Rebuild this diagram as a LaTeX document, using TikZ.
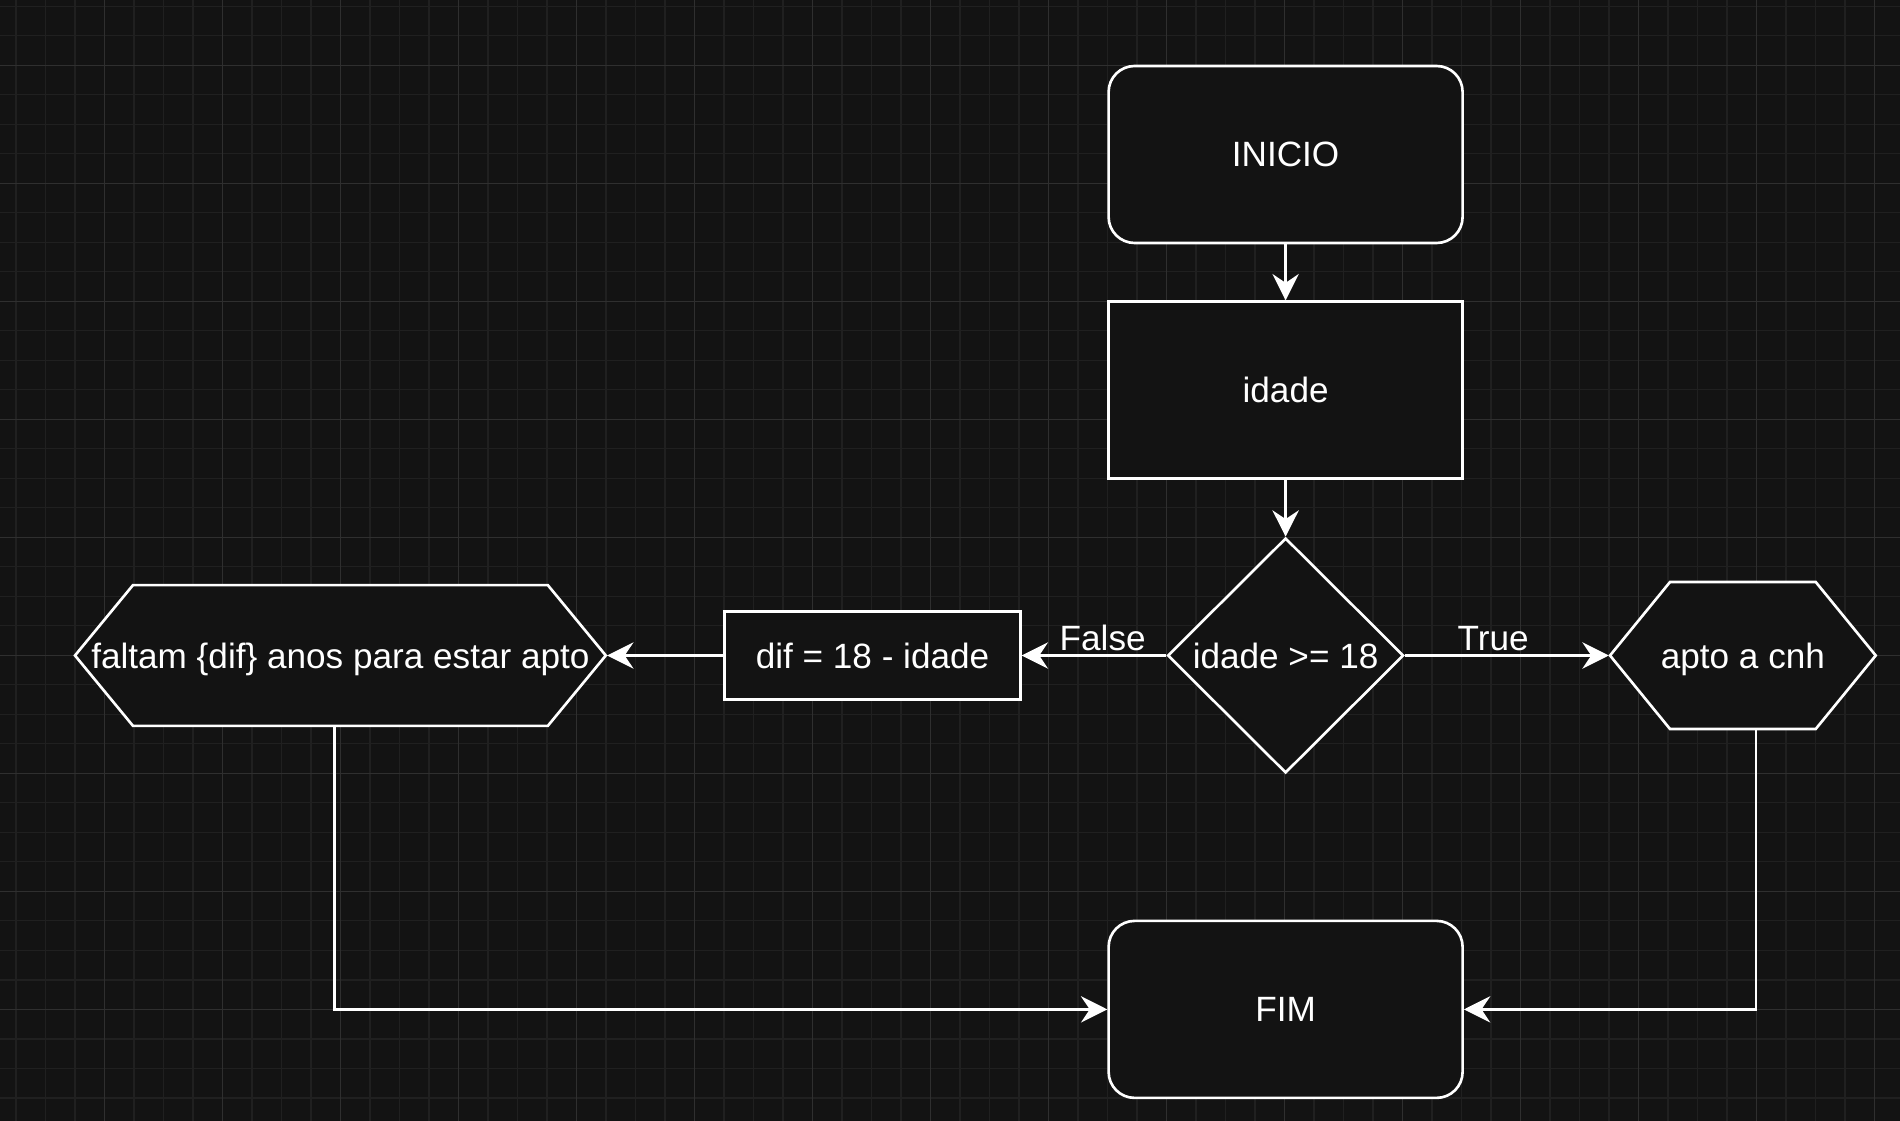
\documentclass[tikz,border=0pt]{standalone}
\usepackage{fontspec}
\setmainfont{Liberation Sans}
\usepackage{tikz}
\usetikzlibrary{arrows.meta, shapes.geometric, calc}

\definecolor{fundo}{RGB}{19,19,19}
\definecolor{gradefina}{RGB}{32,32,32}
\definecolor{gradegrossa}{RGB}{47,47,47}

\begin{document}
\begin{tikzpicture}[
    font=\fontsize{10}{12}\selectfont,
    line width=0.75pt,
    caixa/.style={draw=white, fill=fundo, text=white, minimum width=3.54cm, minimum height=1.77cm, inner sep=0pt},
    terminal/.style={caixa, rounded corners=0.26cm},
    decisao/.style={diamond, draw=white, fill=fundo, text=white, minimum width=2.36cm, minimum height=2.35cm, inner sep=0pt},
    hexagono/.style={draw=white, fill=fundo},
    saida/.style={text=white, inner sep=0pt, text depth=0pt},
    seta/.style={draw=white, -{Stealth[length=7.5pt, width=7.5pt, inset=2.5pt]}},
    rotulo/.style={text=white, anchor=south, inner sep=1pt}
  ]
  \fill[fundo] (0,0) rectangle (19,-11.21);
  \useasboundingbox (0,0) rectangle (19,-11.21);
  % grade de fundo
  \foreach \i in {0,...,64}
    \draw[gradefina, line width=0.4pt] ({0.158+0.295*\i},0) -- ({0.158+0.295*\i},-11.21);
  \foreach \j in {0,...,37}
    \draw[gradefina, line width=0.4pt] (0,{-0.063-0.295*\j}) -- (19,{-0.063-0.295*\j});
  \foreach \i in {0,...,15}
    \draw[gradegrossa, line width=0.4pt] ({1.043+1.18*\i},0) -- ({1.043+1.18*\i},-11.21);
  \foreach \j in {0,...,8}
    \draw[gradegrossa, line width=0.4pt] (0,{-0.653-1.18*\j}) -- (19,{-0.653-1.18*\j});

  % hexagonos de saida
  \draw[hexagono] (0.75,-6.555) -- (1.33,-5.851) -- (5.478,-5.851) -- (6.058,-6.555)
    -- (5.478,-7.259) -- (1.33,-7.259) -- cycle;
  \draw[hexagono] (16.10,-6.555) -- (16.70,-5.82) -- (18.157,-5.82) -- (18.757,-6.555)
    -- (18.157,-7.29) -- (16.70,-7.29) -- cycle;

  \node[terminal] (inicio) at (12.856,-1.545) {INICIO};
  \node[caixa] (idade) at (12.856,-3.902) {idade};
  \node[decisao] (teste) at (12.856,-6.555) {idade >= 18};
  \node[caixa, minimum width=2.957cm, minimum height=0.884cm] (dif) at (8.725,-6.555) {dif = 18 - idade};
  \node[saida, minimum width=5.308cm, minimum height=1.408cm] (faltam) at (3.404,-6.555) {faltam \{dif\} anos para estar apto};
  \node[saida, minimum width=2.657cm, minimum height=1.47cm] (apto) at (17.429,-6.555) {apto a cnh};
  \node[terminal] (fim) at (12.856,-10.094) {FIM};

  \draw[seta] (inicio) -- (idade);
  \draw[seta] (idade) -- (teste);
  \draw[seta] (teste) -- node[rotulo, pos=0.44] {False} (dif);
  \draw[seta] (teste) -- node[rotulo, pos=0.433] {True} (apto);
  \draw[seta] (dif) -- (faltam);
  \draw[seta] ($(faltam.south)+(-0.06,0)$) |- (fim);
  \draw[seta] ($(apto.south)+(0.13,0)$) |- (fim);
\end{tikzpicture}
\end{document}
